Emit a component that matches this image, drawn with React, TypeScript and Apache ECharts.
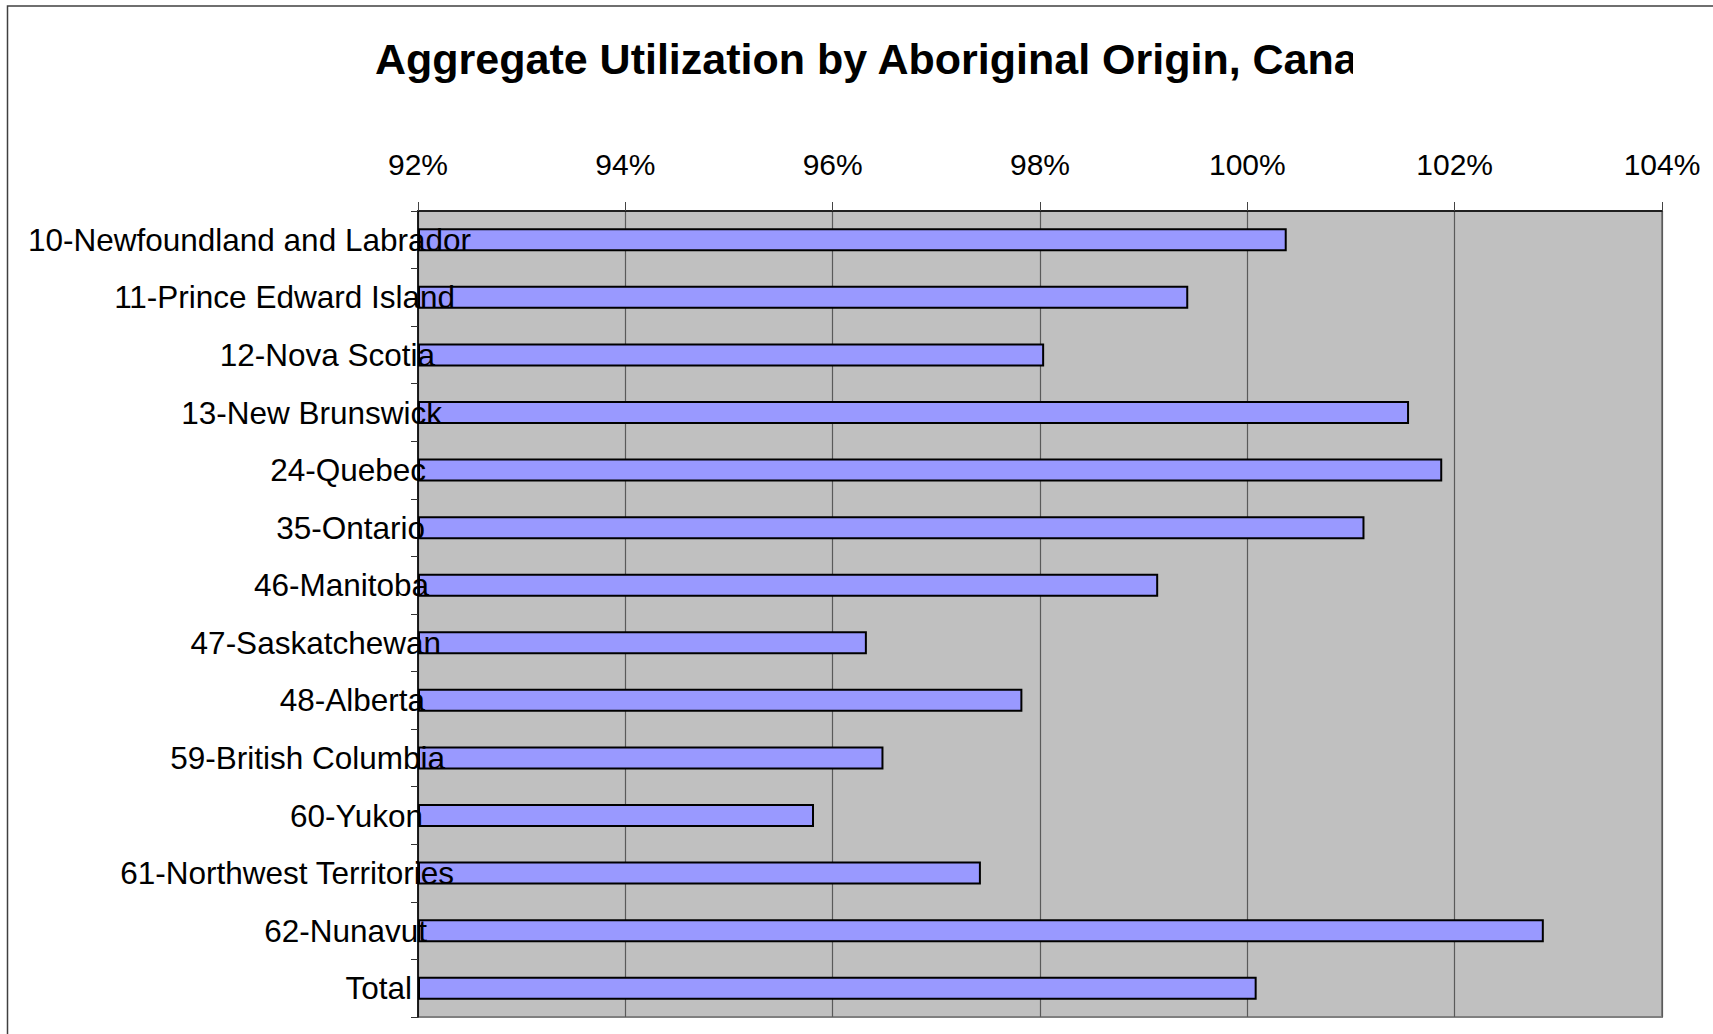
import React, { useEffect, useRef } from "react";
import * as echarts from "echarts";

const TITLE = "Aggregate Utilization by Aboriginal Origin, Cana";

const categories = [
  "10-Newfoundland and Labrador",
  "11-Prince Edward Island",
  "12-Nova Scotia",
  "13-New Brunswick",
  "24-Quebec",
  "35-Ontario",
  "46-Manitoba",
  "47-Saskatchewan",
  "48-Alberta",
  "59-British Columbia",
  "60-Yukon",
  "61-Northwest Territories",
  "62-Nunavut",
  "Total",
];

const values = [
  100.38, 99.43, 98.04, 101.56, 101.88, 101.13, 99.14, 96.33, 97.83, 96.49,
  95.82, 97.43, 102.86, 100.09,
];

const X_MIN = 92;
const X_MAX = 104;
const X_STEP = 2;

const FONT = '"Liberation Sans", Arial, sans-serif';

function measure(text: string, size: number): number {
  const c = document.createElement("canvas");
  const ctx = c.getContext("2d");
  if (!ctx) return text.length * size * 0.5;
  ctx.font = `${size}px "Liberation Sans", Arial, sans-serif`;
  return ctx.measureText(text).width;
}

export default function App() {
  const ref = useRef<HTMLDivElement>(null);

  useEffect(() => {
    if (!ref.current) return;
    const chart = echarts.init(ref.current, undefined, { renderer: "svg" });

    const labelSize = 31.5;
    const labelData = categories.map((c) => ({
      name: c,
      value: [X_MIN, c],
      label: { offset: [Math.round(0.155 * measure(c, labelSize)), 0] },
    }));

    chart.setOption({
      animation: false,
      backgroundColor: "#ffffff",
      grid: {
        left: 418,
        right: 51,
        top: 211,
        bottom: 17,
        show: true,
        backgroundColor: "#C0C0C0",
        borderColor: "#808080",
        borderWidth: 2,
      },
      xAxis: {
        type: "value",
        position: "top",
        min: X_MIN,
        max: X_MAX,
        interval: X_STEP,
        startValue: X_MIN,
        axisLine: { show: true, lineStyle: { color: "#000", width: 1.5 } },
        axisTick: { show: true, length: 9, lineStyle: { color: "#444", width: 1 } },
        axisLabel: {
          formatter: (v: number) => `${v}%`,
          fontSize: 30,
          fontFamily: FONT,
          color: "#000",
          margin: 32,
        },
        splitLine: { show: true, lineStyle: { color: "#5a5a5a", width: 1.2 } },
      },
      yAxis: {
        type: "category",
        data: categories,
        inverse: true,
        axisLine: { show: true, lineStyle: { color: "#000", width: 1.5 } },
        axisTick: { show: true, length: 7, lineStyle: { color: "#333", width: 1 } },
        axisLabel: { show: false },
        splitLine: { show: false },
      },
      series: [
        {
          type: "bar",
          data: values,
          barWidth: 23,
          itemStyle: { color: "#9999FF", borderColor: "#000", borderWidth: 2 },
          z: 2,
        },
        {
          type: "scatter",
          data: labelData,
          symbolSize: 0,
          silent: true,
          clip: false,
          z: 10,
          itemStyle: { color: "#000", opacity: 1 },
          label: {
            show: true,
            position: "left",
            distance: 16,
            formatter: "{b}",
            fontSize: labelSize,
            fontFamily: FONT,
            color: "#000000",
            opacity: 1,
            textBorderWidth: 0,
          },
        },
      ],
      graphic: [
        {
          type: "polyline",
          shape: { points: [[7.5, 1034], [7.5, 6], [1713, 6]] },
          style: { stroke: "#404040", lineWidth: 1.5, fill: null },
          silent: true,
        },
        {
          type: "text",
          left: 375,
          top: 37,
          style: {
            text: TITLE,
            font: `bold 43px ${FONT}`,
            fill: "#000",
          },
          silent: true,
        },
        {
          type: "rect",
          shape: { x: 1353, y: 20, width: 360, height: 80 },
          style: { fill: "#ffffff" },
          z: 100,
          silent: true,
        },
      ],
    });

    return () => chart.dispose();
  }, []);

  return (
    <div
      ref={ref}
      style={{ position: "absolute", left: 0, top: 0, width: 1713, height: 1034 }}
    />
  );
}
